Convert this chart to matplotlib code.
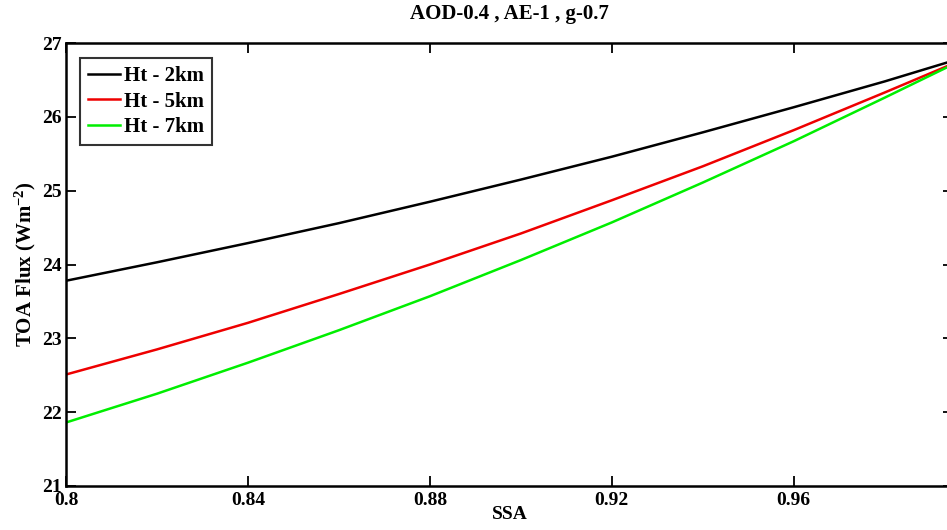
import numpy as np
import matplotlib
matplotlib.use('Agg')
import matplotlib.pyplot as plt

# SSA values and TOA flux for each aerosol layer height
ssa = [0.80, 0.82, 0.84, 0.86, 0.88, 0.90, 0.92, 0.94, 0.96, 0.98, 0.995]
flux_2km = [23.78, 24.03, 24.29, 24.56, 24.85, 25.15, 25.46, 25.79, 26.13, 26.48, 26.76]
flux_5km = [22.51, 22.85, 23.21, 23.60, 24.00, 24.42, 24.87, 25.33, 25.82, 26.33, 26.72]
flux_7km = [21.86, 22.25, 22.67, 23.11, 23.57, 24.06, 24.57, 25.11, 25.67, 26.26, 26.71]

xticks = [0.8, 0.84, 0.88, 0.92, 0.96]
xticklabels = ['0.8', '0.84', '0.88', '0.92', '0.96']
yticks = [21, 22, 23, 24, 25, 26, 27]

plt.rcParams['font.family'] = 'Liberation Serif'
plt.rcParams['font.weight'] = 'bold'
plt.rcParams['mathtext.fontset'] = 'custom'
plt.rcParams['mathtext.rm'] = 'Liberation Serif:bold'
plt.rcParams['mathtext.default'] = 'rm'

fig = plt.figure(figsize=(9.47, 5.30), dpi=100)
ax = fig.add_axes([66/947, 1 - 486/530, 887/947, (486 - 43)/530])

ax.plot(ssa, flux_2km, color='black', lw=1.8, label='Ht - 2km')
ax.plot(ssa, flux_5km, color='#ee0000', lw=1.8, label='Ht - 5km')
ax.plot(ssa, flux_7km, color='#00ee00', lw=1.8, label='Ht - 7km')

ax.set_xlim(0.8, 0.995)
ax.set_ylim(21, 27)
ax.set_xticks(xticks)
ax.set_xticklabels(xticklabels)
ax.set_yticks(yticks)
ax.tick_params(direction='in', length=7, width=1.3, top=True, right=True,
               labelsize=14)
ax.tick_params(axis='x', pad=4)
ax.tick_params(axis='y', pad=3)
for lab in ax.get_xticklabels() + ax.get_yticklabels():
    lab.set_fontweight('bold')
for sp in ax.spines.values():
    sp.set_linewidth(1.8)

ax.set_title('AOD-0.4 , AE-1 , g-0.7', fontsize=15, fontweight='bold', pad=17)
ax.set_xlabel('SSA', fontsize=14, fontweight='bold', labelpad=-2)
ax.set_ylabel('TOA Flux (Wm$^{-2}$)', fontsize=15, fontweight='bold', labelpad=3)

leg = ax.legend(loc='upper left', bbox_to_anchor=(0.0158, 0.966),
                prop={'weight': 'bold', 'size': 15}, frameon=True, fancybox=False,
                handlelength=1.5, handletextpad=0.2, borderpad=0.4, labelspacing=0.25,
                borderaxespad=0)
leg.get_frame().set_edgecolor('black')
leg.get_frame().set_linewidth(1.5)

plt.savefig('out.png', dpi=100)
